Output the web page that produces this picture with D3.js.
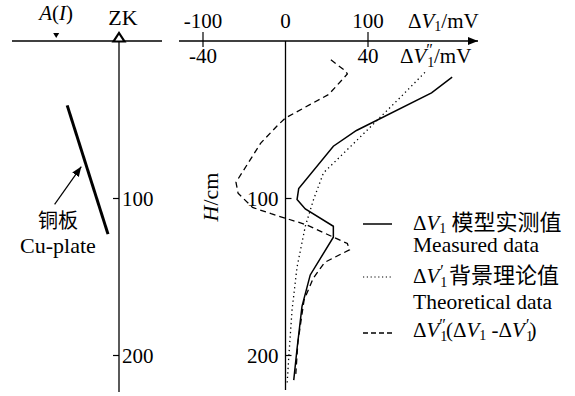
<!DOCTYPE html>
<html>
<head>
<meta charset="utf-8">
<script src="https://d3js.org/d3.v7.min.js"></script>
<style>
  body { margin: 0; background: #fff; }
</style>
</head>
<body>
<div id="chart"></div>
<script>
// H (cm) vs. value
var measured = [[23,202],[33,177],[57,86],[67,58],[94,16],[101,14],[107,24],[118,58],[125,58],[149,30],[169,20],[196,14],[216,10]];   // ΔV1, mV
var theoretical = [[20,169],[36,139],[63,87],[84,46],[101,34],[118,24],[144,14],[171,8],[201,4],[218,2]];                            // ΔV1', mV
var difference = [[12,22],[19,29],[21,30],[34,21],[49,0],[54,-4],[65,-12],[90,-24],[97,-23],[106,-16],[110,-7],[117,10],[129,30],[133,31],[141,19],[151,13.5],[165,9],[192,6],[212,5]]; // ΔV1'', mV

var hTicks = [100, 200];
var v1Ticks = [-100, 0, 100];
var v2Ticks = [-40, 40];

// left sketch: offset from ZK (cm), depth H (cm)
var plate = [[-33, 41], [-7, 123]];
var arrowPts = [[-41, 104], [-24, 80]];
var pointA = -40;

var SERIF = "Liberation Serif";
var CJK = "Noto Sans CJK SC";

var W = 575, H = 396;
var svg = d3.select("#chart").append("svg").attr("width", W).attr("height", H)
    .attr("font-family", SERIF).attr("fill", "#000");

var x1 = d3.scaleLinear().domain([-100, 100]).range([203, 368]);
var x2 = d3.scaleLinear().domain([-40, 40]).range([203, 368]);
var y = d3.scaleLinear().domain([0, 200]).range([41, 355]);
var xl = d3.scaleLinear().domain([-10, 0]).range([119 - 15.7, 119]);

svg.append("defs").append("marker")
    .attr("id", "ah").attr("viewBox", "0 0 10 10").attr("refX", 10).attr("refY", 5)
    .attr("markerWidth", 10).attr("markerHeight", 10).attr("markerUnits", "userSpaceOnUse")
    .attr("orient", "auto")
  .append("path").attr("d", "M0,1L10,5L0,9Z").attr("fill", "#000");

// rich text helper
function rich(x, yy, parts, anchor) {
    var t = svg.append("text").attr("x", x).attr("y", yy).attr("font-size", 21);
    if (anchor) t.attr("text-anchor", anchor);
    parts.forEach(function (p) {
        var s = t.append("tspan").text(p.t);
        if (p.i) s.attr("font-style", "italic");
        if (p.s) s.attr("font-size", p.s);
        if (p.c) s.attr("font-family", CJK);
        if (p.dy) s.attr("dy", p.dy);
        if (p.dx) s.attr("dx", p.dx);
    });
    return t;
}

// ---------- left panel ----------
svg.append("line").attr("x1", 12).attr("x2", 162).attr("y1", y(0)).attr("y2", y(0))
    .attr("stroke", "#000").attr("stroke-width", 1.3);
svg.append("line").attr("x1", xl(0)).attr("x2", xl(0)).attr("y1", y(0)).attr("y2", 392)
    .attr("stroke", "#000").attr("stroke-width", 1.3);

var leftAxis = svg.append("g").attr("transform", "translate(" + xl(0) + ",0)")
    .call(d3.axisLeft(y).tickValues(hTicks).tickSize(6).tickSizeOuter(0));
leftAxis.attr("font-family", SERIF).attr("font-size", 21);
leftAxis.select(".domain").remove();
leftAxis.selectAll("line").attr("stroke-width", 1.2);
leftAxis.selectAll("text").attr("x", 3).attr("dy", "0.36em").attr("text-anchor", "start");

// ZK triangle
svg.append("path")
    .attr("d", "M" + (xl(0) - 5.5) + "," + (y(0) + 0.5) + "L" + (xl(0) + 5.5) + "," + (y(0) + 0.5) + "L" + xl(0) + "," + (y(0) - 8) + "Z")
    .attr("fill", "#fff").attr("stroke", "#000").attr("stroke-width", 2.2);
svg.append("text").attr("x", xl(0) + 4).attr("y", 25).attr("text-anchor", "middle")
    .attr("font-size", 22).text("ZK");

// A(I)
svg.append("path")
    .attr("d", "M" + (xl(pointA) - 3) + "," + (y(0) - 8) + "L" + (xl(pointA) + 3) + "," + (y(0) - 8) + "L" + xl(pointA) + "," + (y(0) - 3) + "Z")
    .attr("fill", "#000");
rich(xl(pointA), 20, [{t: "A", i: 1}, {t: "("}, {t: "I", i: 1}, {t: ")"}], "middle");

// Cu plate
svg.append("line")
    .attr("x1", xl(plate[0][0])).attr("y1", y(plate[0][1]))
    .attr("x2", xl(plate[1][0])).attr("y2", y(plate[1][1]))
    .attr("stroke", "#000").attr("stroke-width", 3);
svg.append("line")
    .attr("x1", xl(arrowPts[0][0])).attr("y1", y(arrowPts[0][1]))
    .attr("x2", xl(arrowPts[1][0])).attr("y2", y(arrowPts[1][1]))
    .attr("stroke", "#000").attr("stroke-width", 1.2).attr("marker-end", "url(#ah)");
svg.append("text").attr("x", 58).attr("y", 228).attr("text-anchor", "middle")
    .attr("font-family", CJK).attr("font-size", 20).text("铜板");
svg.append("text").attr("x", 58).attr("y", 253).attr("text-anchor", "middle")
    .attr("font-size", 22).text("Cu-plate");

// ---------- right panel ----------
svg.append("line").attr("x1", 179).attr("x2", 478).attr("y1", y(0)).attr("y2", y(0))
    .attr("stroke", "#000").attr("stroke-width", 1.3).attr("marker-end", "url(#ah)");
svg.append("line").attr("x1", x1(0)).attr("x2", x1(0)).attr("y1", y(0)).attr("y2", 390)
    .attr("stroke", "#000").attr("stroke-width", 1.3);

// top ticks (cross the axis)
svg.selectAll(".vtick").data(v1Ticks.filter(function (d) { return d !== 0; })).enter()
    .append("line").attr("class", "vtick")
    .attr("x1", function (d) { return x1(d); }).attr("x2", function (d) { return x1(d); })
    .attr("y1", y(0) - 9).attr("y2", y(0) + 6)
    .attr("stroke", "#000").attr("stroke-width", 1.2);
svg.selectAll(".v1lab").data(v1Ticks).enter().append("text").attr("class", "v1lab")
    .attr("x", function (d) { return x1(d); }).attr("y", 28).attr("text-anchor", "middle")
    .attr("font-size", 21).text(function (d) { return d; });
svg.selectAll(".v2lab").data(v2Ticks).enter().append("text").attr("class", "v2lab")
    .attr("x", function (d) { return x2(d); }).attr("y", 63).attr("text-anchor", "middle")
    .attr("font-size", 21).text(function (d) { return d; });

rich(408, 28, [{t: "Δ"}, {t: "V", i: 1}, {t: "1", s: 14, dy: 3}, {t: "/mV", dy: -3}]);
rich(400, 63, [{t: "Δ"}, {t: "V", i: 1}, {t: "1", s: 14, dy: 4, dx: 1}, {t: "″", s: 16, dx: -8, dy: -12}, {t: "/mV", dy: 8, dx: 1}]);

var rightAxis = svg.append("g").attr("transform", "translate(" + x1(0) + ",0)")
    .call(d3.axisRight(y).tickValues(hTicks).tickSize(6).tickSizeOuter(0));
rightAxis.attr("font-family", SERIF).attr("font-size", 21);
rightAxis.select(".domain").remove();
rightAxis.selectAll("line").attr("stroke-width", 1.2);
rightAxis.selectAll("text").attr("x", -7).attr("dy", "0.36em").attr("text-anchor", "end");

// H/cm
rich(0, 0, [{t: "H", i: 1}, {t: "/cm"}], "middle").attr("font-size", 22)
    .attr("transform", "translate(218,197) rotate(-90)");

// curves
var line1 = d3.line().x(function (d) { return x1(d[1]); }).y(function (d) { return y(d[0]); });
var line2 = d3.line().x(function (d) { return x2(d[1]); }).y(function (d) { return y(d[0]); });

svg.append("path").datum(theoretical).attr("d", line1)
    .attr("fill", "none").attr("stroke", "#000").attr("stroke-width", 1.3)
    .attr("stroke-dasharray", "1.3,3.2");
svg.append("path").datum(measured).attr("d", line1)
    .attr("fill", "none").attr("stroke", "#000").attr("stroke-width", 1.5);
svg.append("path").datum(difference).attr("d", line2)
    .attr("fill", "none").attr("stroke", "#000").attr("stroke-width", 1.3)
    .attr("stroke-dasharray", "6,4");

// legend
svg.append("line").attr("x1", 363).attr("x2", 392).attr("y1", 224).attr("y2", 224)
    .attr("stroke", "#000").attr("stroke-width", 1.5);
svg.append("line").attr("x1", 363).attr("x2", 393).attr("y1", 277).attr("y2", 277)
    .attr("stroke", "#000").attr("stroke-width", 1.2).attr("stroke-dasharray", "1.2,2.6");
svg.append("line").attr("x1", 363).attr("x2", 394).attr("y1", 333).attr("y2", 333)
    .attr("stroke", "#000").attr("stroke-width", 1.3).attr("stroke-dasharray", "5,3");

rich(413, 230, [{t: "Δ"}, {t: "V", i: 1}, {t: "1", s: 14, dy: 3}, {t: " ", dy: -3}, {t: "模型实测值", c: 1, s: 22}]);
svg.append("text").attr("x", 413).attr("y", 252).attr("font-size", 21.5).text("Measured data");
rich(413, 283, [{t: "Δ"}, {t: "V", i: 1}, {t: "1", s: 14, dy: 4, dx: 1}, {t: "′", s: 16, dx: -7, dy: -11}, {t: " ", dy: 7}, {t: "背景理论值", c: 1, s: 22}]);
svg.append("text").attr("x", 413).attr("y", 309).attr("font-size", 21.5).text("Theoretical data");
rich(413, 337, [{t: "Δ"}, {t: "V", i: 1}, {t: "1", s: 14, dy: 4, dx: 1}, {t: "″", s: 16, dx: -8, dy: -11},
    {t: "(Δ", dy: 7}, {t: "V", i: 1}, {t: "1", s: 14, dy: 3}, {t: " -Δ", dy: -3}, {t: "V", i: 1},
    {t: "1", s: 14, dy: 4, dx: 1}, {t: "′", s: 16, dx: -7, dy: -11}, {t: ")", dy: 7}]);
</script>
</body>
</html>
